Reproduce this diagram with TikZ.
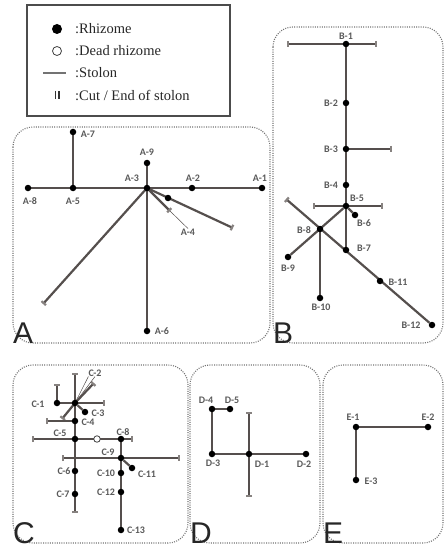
\documentclass[tikz,border=0pt]{standalone}
\usepackage{fontspec}
\setmainfont{Liberation Serif}
\setsansfont{Liberation Sans}
\newfontfamily\lblfont{Carlito}
\usepackage{tikz}
\usetikzlibrary{arrows.meta,backgrounds}
\definecolor{stolgray}{RGB}{85,79,77}
\definecolor{cutgray}{RGB}{135,130,128}

\tikzset{
  rhizome/.style={circle,fill=black,inner sep=0pt,minimum size=6.5pt},
  deadrhz/.style={circle,draw=black!75,fill=white,line width=0.8pt,inner sep=0pt,minimum size=6.5pt},
  tag/.style={font=\lblfont\bfseries\fontsize{10}{10}\selectfont,text=black!65,inner sep=0pt},
  legtext/.style={font=\fontsize{14.5}{15}\selectfont,anchor=west,inner sep=0pt,text=black!85},
  stolon/.style={draw=stolgray,line width=2.2pt},
  cutend/.style={-{Bar[width=6pt,color=cutgray]}},
  cutboth/.style={{Bar[width=6pt,color=cutgray]}-{Bar[width=6pt,color=cutgray]}},
  leader/.style={draw=stolgray,line width=0.5pt},
  panel/.style={draw=black!55,line width=1.1pt,dash pattern=on 1pt off 1.3pt,rounded corners=20pt},
  letter/.style={font=\sffamily\fontsize{30}{30}\selectfont,anchor=base west,inner sep=0pt,text=black!85}
}

\begin{document}
\begin{tikzpicture}[x=1pt,y=-1pt]
\useasboundingbox (0,0) rectangle (444,548);

% legend
\draw[draw=black!70,line width=1.3pt] (27,5) rectangle (230,116);
\node[rhizome,minimum size=10pt] (legdot) at (57,29) {};
\node[deadrhz,minimum size=9pt] (legdead) at (57,51) {};
\coordinate (legst1) at (43,73);
\coordinate (legst2) at (66,73);
\draw[draw=black!55,line width=2.5pt] (legst1) -- (legst2);
\draw[black!80,line width=1.6pt] (55.5,91) -- (55.5,99) (58.8,91) -- (58.8,99);
\node[legtext] (legt1) at (75,29) {:Rhizome};
\node[legtext] (legt2) at (75,51) {:Dead rhizome};
\node[legtext] (legt3) at (75,73) {:Stolon};
\node[legtext] (legt4) at (75,95) {:Cut / End of stolon};

% panels
\draw[panel] (13,127) rectangle (270,343);
\draw[panel] (273,27) rectangle (443,343);
\draw[panel] (13,365) rectangle (188,543);
\draw[panel] (190,365) rectangle (320,543);
\draw[panel] (323,365) rectangle (443,543);
\node[letter] (letA) at (13,343) {A};
\node[letter] (letB) at (273,343) {B};
\node[letter] (letC) at (13,543) {C};
\node[letter] (letD) at (190,543) {D};
\node[letter] (letE) at (323,543) {E};

% A
\begin{scope}[every node/.style={rhizome}]
	\node (a1) at (262,188) {};
	\node (a2) at (192,188) {};
	\node (a3) at (147,188) {};
	\node (a4) at (168,198) {};
	\node (a5) at (73,188) {};
	\node (a6) at (147,331) {};
	\node (a7) at (73,132) {};
	\node (a8) at (28,188) {};
	\node (a9) at (147,163) {};
\end{scope}
\coordinate (aSW) at (43,304);
\coordinate (aE) at (233,228);
\coordinate (aS) at (170,211);
\node[tag] (a1t) at (260,178) {A-1};
\node[tag] (a2t) at (193,178) {A-2};
\node[tag] (a3t) at (132,178) {A-3};
\node[tag] (a4t) at (188,232) {A-4};
\node[tag] (a5t) at (73,201) {A-5};
\node[tag] (a6t) at (162,331) {A-6};
\node[tag] (a7t) at (88,134) {A-7};
\node[tag] (a8t) at (30,201) {A-8};
\node[tag] (a9t) at (147,152) {A-9};

\begin{scope}[on background layer]
	\draw[stolon] (a8) -- (a1);
	\draw[stolon] (a5) -- (a7);
	\draw[stolon] (a9) -- (a6);
	\draw[stolon,cutend] (a3.center) -- (aSW);
	\draw[stolon,cutend] (a3.center) -- (aE);
	\draw[stolon,cutend] (a3.center) -- (aS);
	\draw[leader] (a4t.north) -- (aS);
\end{scope}

% B
\begin{scope}[every node/.style={rhizome}]
	\node (b1) at (346,44) {};
	\node (b2) at (346,103) {};
	\node (b3) at (346,149) {};
	\node (b4) at (346,185) {};
	\node (b5) at (346,206) {};
	\node (b6) at (355,215) {};
	\node (b7) at (346,250) {};
	\node (b8) at (320,229) {};
	\node (b9) at (288,257) {};
	\node (b10) at (320,298) {};
	\node (b11) at (380,281) {};
	\node (b12) at (432,325) {};
\end{scope}
\coordinate (b1W) at (287,44);
\coordinate (b1E) at (377,44);
\coordinate (b3E) at (392,149);
\coordinate (b5W) at (313,206);
\coordinate (b5E) at (383,206);
\coordinate (bNW) at (286,199);
\node[tag] (b1t) at (346,36) {B-1};
\node[tag] (b2t) at (331,103) {B-2};
\node[tag] (b3t) at (331,149) {B-3};
\node[tag] (b4t) at (331,185) {B-4};
\node[tag] (b5t) at (357,198) {B-5};
\node[tag] (b6t) at (364,223) {B-6};
\node[tag] (b7t) at (364,248) {B-7};
\node[tag] (b8t) at (304,230) {B-8};
\node[tag] (b9t) at (288,268) {B-9};
\node[tag] (b10t) at (321,307) {B-10};
\node[tag] (b11t) at (398,282) {B-11};
\node[tag] (b12t) at (411,325) {B-12};

\begin{scope}[on background layer]
	\draw[stolon,cutboth] (b1W) -- (b1E);
	\draw[stolon] (b1) -- (b7);
	\draw[stolon,cutend] (b3.center) -- (b3E);
	\draw[stolon,cutboth] (b5W) -- (b5E);
	\draw[stolon] (b5) -- (b6);
	\draw[stolon] (b5) -- (b9);
	\draw[stolon] (b8) -- (b10);
	\draw[stolon,{Bar[width=6pt,color=cutgray]}-] (bNW) -- (b12);
\end{scope}

% C
\begin{scope}[every node/.style={rhizome}]
	\node (c1) at (57,403) {};
	\node (c2) at (75,403) {};
	\node (c3) at (85,412) {};
	\node (c4) at (75,421) {};
	\node (c5) at (75,439) {};
	\node (c6) at (75,471) {};
	\node (c7) at (75,494) {};
	\node (c8) at (121,439) {};
	\node (c9) at (121,458) {};
	\node (c10) at (121,473) {};
	\node (c11) at (132,468) {};
	\node (c12) at (121,492) {};
	\node (c13) at (121,530) {};
	\node[deadrhz] (cdead) at (97,439) {};
\end{scope}
\coordinate (cT) at (75,373);
\coordinate (cB) at (75,513);
\coordinate (c1N) at (57,384);
\coordinate (c2E) at (105,403);
\coordinate (c2NE) at (94,383);
\coordinate (c2SW) at (62,419);
\coordinate (c4W) at (46,421);
\coordinate (c5W) at (32,439);
\coordinate (c5E) at (133,439);
\coordinate (c9W) at (62,458);
\coordinate (c9E) at (180,458);
\node[tag] (c1t) at (38,404) {C-1};
\node[tag] (c2t) at (95,373) {C-2};
\node[tag] (c3t) at (98,413) {C-3};
\node[tag] (c4t) at (88,422) {C-4};
\node[tag] (c5t) at (60,433) {C-5};
\node[tag] (c6t) at (64,471) {C-6};
\node[tag] (c7t) at (63,494) {C-7};
\node[tag] (c8t) at (123,432) {C-8};
\node[tag] (c9t) at (108,452) {C-9};
\node[tag] (c10t) at (106,473) {C-10};
\node[tag] (c11t) at (147,474) {C-11};
\node[tag] (c12t) at (106,492) {C-12};
\node[tag] (c13t) at (136,530) {C-13};

\begin{scope}[on background layer]
	\draw[stolon,cutboth] (cT) -- (cB);
	\draw[stolon,cutend] (c1.center) -- (c1N);
	\draw[stolon,cutend] (c1.center) -- (c2E);
	\draw[stolon,cutend] (c2.center) -- (c2NE);
	\draw[stolon,cutend] (c2.center) -- (c2SW);
	\draw[stolon] (c2) -- (c3);
	\draw[leader] (c2) -- (c2t.south west);
	\draw[leader] (c2) -- (c2t.south);
	\draw[stolon,cutend] (c4.center) -- (c4W);
	\draw[stolon,cutboth] (c5W) -- (c5E);
	\draw[stolon,cutboth] (c9W) -- (c9E);
	\draw[stolon] (c8) -- (c13);
	\draw[stolon] (c9) -- (c11);
\end{scope}

% D
\begin{scope}[every node/.style={rhizome}]
	\node (d1) at (249,454) {};
	\node (d2) at (306,454) {};
	\node (d3) at (212,454) {};
	\node (d4) at (212,409) {};
	\node (d5) at (230,409) {};
\end{scope}
\coordinate (dN) at (249,412);
\coordinate (dS) at (249,497);
\node[tag] (d1t) at (262,464) {D-1};
\node[tag] (d2t) at (304,464) {D-2};
\node[tag] (d3t) at (213,463) {D-3};
\node[tag] (d4t) at (206,400) {D-4};
\node[tag] (d5t) at (232,400) {D-5};

\begin{scope}[on background layer]
	\draw[stolon] (d4) -- (d5);
	\draw[stolon] (d4) -- (d3);
	\draw[stolon] (d3) -- (d2);
	\draw[stolon,cutboth] (dN) -- (dS);
\end{scope}

% E
\begin{scope}[every node/.style={rhizome}]
	\node (e1) at (356,427) {};
	\node (e2) at (428,427) {};
	\node (e3) at (356,480) {};
\end{scope}
\node[tag] (e1t) at (353,417) {E-1};
\node[tag] (e2t) at (428,417) {E-2};
\node[tag] (e3t) at (371,481) {E-3};

\begin{scope}[on background layer]
	\draw[stolon] (e1) -- (e2);
	\draw[stolon] (e1) -- (e3);
\end{scope}
\end{tikzpicture}
\end{document}
